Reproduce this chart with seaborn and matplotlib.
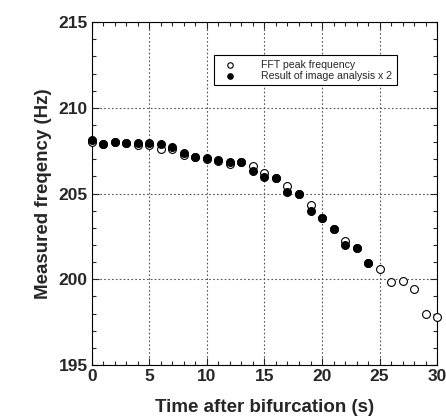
import numpy as np
import pandas as pd
import matplotlib
matplotlib.use("Agg")
import matplotlib.pyplot as plt
import seaborn as sns
from matplotlib.ticker import MultipleLocator

# FFT peak frequency (open circles)
fft_t = [0, 1, 2, 3, 4, 5, 6, 7, 8, 9, 10, 11, 12, 13, 14, 15, 16, 17, 18, 19,
         20, 21, 22, 23, 24, 25, 26, 27, 28, 29, 30]
fft_f = [208.0, 207.9, 208.0, 207.95, 207.85, 207.85, 207.63, 207.58, 207.24, 207.12,
         207.03, 206.93, 206.72, 206.83, 206.6, 206.21, 205.9, 205.44, 204.95, 204.33,
         203.6, 202.93, 202.22, 201.8, 200.96, 200.6, 199.84, 199.9, 199.43, 197.99, 197.82]

# result of image analysis x 2 (filled circles)
img_t = [0, 1, 2, 3, 4, 5, 6, 7, 8, 9, 10, 11, 12, 13, 14, 15, 16, 17, 18, 19,
         20, 21, 22, 23, 24]
img_f = [208.12, 207.87, 208.02, 207.96, 207.98, 207.96, 207.92, 207.73, 207.34, 207.15,
         207.05, 206.95, 206.85, 206.85, 206.29, 205.98, 205.89, 205.1, 204.95, 203.98,
         203.59, 202.93, 201.98, 201.82, 200.96]

fft = pd.DataFrame({"t": fft_t, "f": fft_f})
img = pd.DataFrame({"t": img_t, "f": img_f})

sns.set_style("ticks")
plt.rcParams["font.family"] = ["Liberation Sans", "DejaVu Sans"]

fig = plt.figure(figsize=(4.46, 4.19), dpi=100)
ax = fig.add_axes([0.206, 0.129, 0.774, 0.818])

sns.scatterplot(data=fft, x="t", y="f", ax=ax, marker="o", s=32,
                facecolor="white", edgecolor="black", linewidth=0.8,
                label="FFT peak frequency", zorder=3, clip_on=False)
sns.scatterplot(data=img, x="t", y="f", ax=ax, marker="o", s=32,
                color="black", edgecolor="black", linewidth=0.8,
                label="Result of image analysis x 2", zorder=4, clip_on=False)

ax.set_xlim(0, 30)
ax.set_ylim(195, 215)
ax.xaxis.set_major_locator(MultipleLocator(5))
ax.xaxis.set_minor_locator(MultipleLocator(1))
ax.yaxis.set_major_locator(MultipleLocator(5))
ax.yaxis.set_minor_locator(MultipleLocator(1))
ax.tick_params(which="both", direction="in", top=True, right=True, width=0.8)
ax.tick_params(which="major", length=5, labelsize=12.5, pad=3)
ax.tick_params(which="minor", length=3)
for lab in ax.get_xticklabels() + ax.get_yticklabels():
    lab.set_fontweight("bold")
ax.grid(True, which="major", linestyle=(0, (1.5, 2)), color="#555555", linewidth=0.8)
for sp in ax.spines.values():
    sp.set_color("black")
    sp.set_linewidth(0.8)

ax.set_xlabel("Time after bifurcation (s)", fontsize=13.5, fontweight="bold", labelpad=11)
ax.set_ylabel("Measured freqency (Hz)", fontsize=13.5, fontweight="bold", labelpad=5)

leg = ax.legend(loc="upper left", bbox_to_anchor=(0.355, 0.905), fontsize=7.6,
                frameon=True, fancybox=False, edgecolor="black", framealpha=1,
                handletextpad=2.0, borderpad=0.45, labelspacing=0.1, markerscale=0.7,
                borderaxespad=0)
leg.get_frame().set_linewidth(0.8)

fig.savefig("out.png", dpi=100)
